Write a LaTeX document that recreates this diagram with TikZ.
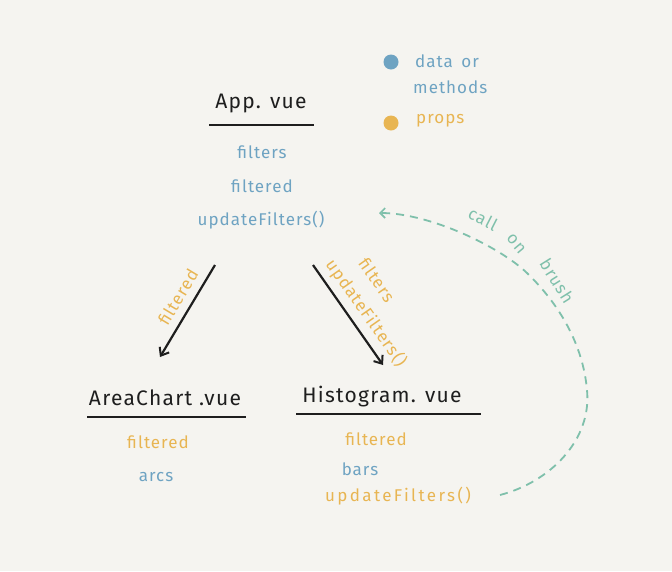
\documentclass[tikz,border=0pt]{standalone}
\usepackage{fontspec}
\setmainfont{Fira Sans}
\newfontfamily\hand[LetterSpace=6]{Fira Sans}
\newfontfamily\handwide[LetterSpace=14]{Fira Sans}
\usetikzlibrary{arrows.meta}
\definecolor{bg}{HTML}{F5F4F0}
\definecolor{dblue}{HTML}{6EA3C2}
\definecolor{porange}{HTML}{E8B552}
\definecolor{teal}{HTML}{7FC0AB}
\definecolor{ink}{HTML}{1E1E1E}
\begin{document}
\begin{tikzpicture}[x=1pt,y=-1pt,
  comp/.style={text=ink,font=\hand\fontsize{21}{22}\selectfont,inner sep=1pt},
  dataitem/.style={text=dblue,font=\hand\fontsize{17}{18}\selectfont,inner sep=1pt},
  propitem/.style={text=porange,font=\hand\fontsize{17}{18}\selectfont,inner sep=1pt},
  brushtext/.style={text=teal,font=\hand\fontsize{17}{18}\selectfont,inner sep=1pt},
  uline/.style={draw=ink,line width=1.8pt},
  flow/.style={draw=ink,line width=2.2pt,-{Straight Barb[length=7pt,width=11pt,line width=2pt]}},
  brushline/.style={draw=teal,line width=1.8pt,dash pattern=on 8pt off 6pt,-{Straight Barb[length=5pt,width=10pt,line width=1.6pt]}},
  dot/.style={circle,inner sep=0pt,minimum size=15pt}]
\fill[bg] (0,0) rectangle (672,571);
\useasboundingbox (0,0) rectangle (672,571);
% legend
\node[dot,fill=dblue] (ldata) at (391,62) {};
\node[dataitem,anchor=west] (ldatat) at (414,61) {data\enspace or};
\node[dataitem,anchor=west] (lmeth) at (412,87) {methods};
\node[dot,fill=porange] (lprop) at (391,123) {};
\node[propitem,anchor=west] (lpropt) at (415,121) {props};
% App
\node[comp] (app) at (261,103) {App. vue};
\coordinate (appL) at (209,125); \coordinate (appR) at (314,125);
\draw[uline] (appL) -- (appR);
\node[dataitem] (afil) at (262,152) {filters};
\node[dataitem] (afild) at (262,186) {filtered};
\node[dataitem] (aupd) at (261,220) {updateFilters()};
% AreaChart
\node[comp] (area) at (165,398) {AreaChart .vue};
\coordinate (arL) at (87,417); \coordinate (arR) at (246,417);
\draw[uline] (arL) -- (arR);
\node[propitem] (arfil) at (158,442) {filtered};
\node[dataitem] (ararc) at (156,477) {arcs};
% Histogram
\node[comp] (hist) at (382,397) {Histogram. vue};
\coordinate (hL) at (296,414); \coordinate (hR) at (481,414);
\draw[uline] (hL) -- (hR);
\node[propitem] (hfil) at (376,439) {filtered};
\node[dataitem] (hbar) at (360,469) {bars};
\node[propitem,font=\handwide\fontsize{17}{18}\selectfont] (hupd) at (398,496) {updateFilters()};
% flows
\coordinate (a1s) at (215,265); \coordinate (a1e) at (160,357);
\coordinate (a2s) at (313,265); \coordinate (a2e) at (383,365);
\draw[flow] (a1s) -- (a1e);
\draw[flow] (a2s) -- (a2e);
\node[propitem,rotate=59] (l1) at (178,297) {filtered};
\node[propitem,rotate=-55] (l2a) at (377,280) {filters};
\node[propitem,rotate=-55] (l2b) at (366,313) {updateFilters()};
% call on brush
\coordinate (bstart) at (500,495);
\coordinate (bend) at (379,213);
\draw[brushline] (bstart) .. controls (550,482) and (592,440) .. (587,390)
  .. controls (583,345) and (560,305) .. (527,273)
  .. controls (500,247) and (430,213) .. (bend);
\node[brushtext,rotate=-27] (c1) at (483,219) {call};
\node[brushtext,rotate=-50] (c2) at (516,244) {on};
\node[brushtext,rotate=-58] (c3) at (557,281) {brush};
\end{tikzpicture}
\end{document}
